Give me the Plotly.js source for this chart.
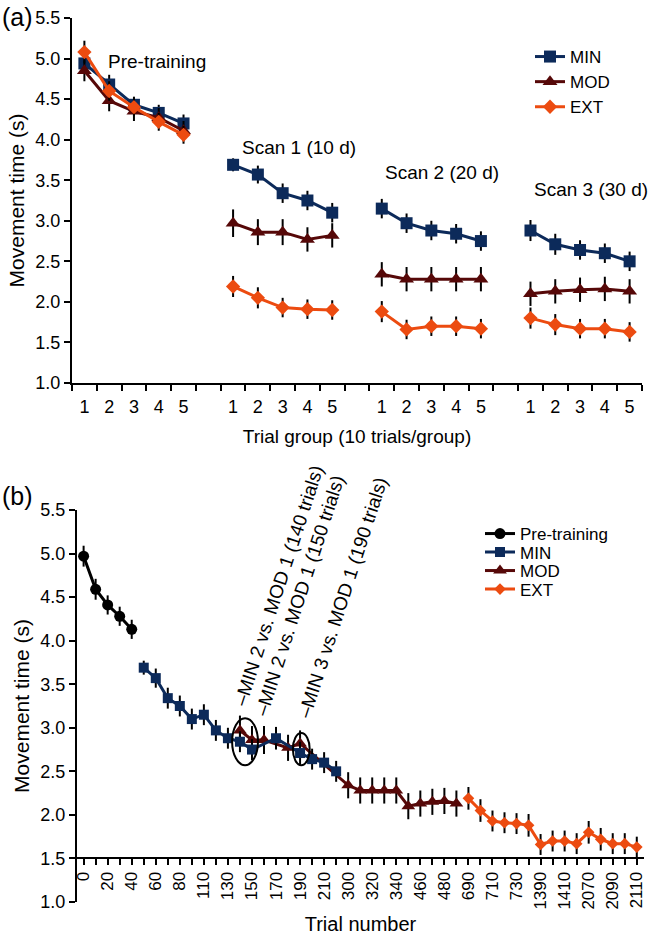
<!DOCTYPE html>
<html>
<head>
<meta charset="utf-8">
<script src="https://cdn.plot.ly/plotly-3.0.1.min.js"></script>
<style>
  html, body { margin: 0; padding: 0; background: #fff; }
  #chart { width: 650px; height: 935px; }
</style>
</head>
<body>
<div id="chart"></div>
<script>
const FONT = "Liberation Sans, Arial, Helvetica, sans-serif";

// ---------- panel (a): trial groups per session ----------
const trialGroups = [1, 2, 3, 4, 5];
const sessionLabels = ["Pre-training", "Scan 1 (10 d)", "Scan 2 (20 d)", "Scan 3 (30 d)"];

// movement time (s), 5 groups per session, sessions in the order above
const minTime = [4.94, 4.68, 4.43, 4.33, 4.20,
                 3.69, 3.57, 3.34, 3.25, 3.10,
                 3.15, 2.97, 2.88, 2.84, 2.75,
                 2.88, 2.71, 2.64, 2.60, 2.50];
const minSem  = [0.12, 0.12, 0.10, 0.10, 0.11,
                 0.08, 0.11, 0.12, 0.12, 0.12,
                 0.12, 0.12, 0.12, 0.12, 0.12,
                 0.13, 0.13, 0.12, 0.12, 0.12];
const modTime = [4.85, 4.48, 4.35, 4.27, 4.11,
                 2.97, 2.86, 2.86, 2.77, 2.82,
                 2.34, 2.28, 2.28, 2.28, 2.28,
                 2.10, 2.13, 2.15, 2.16, 2.13];
const modSem  = [0.13, 0.13, 0.12, 0.12, 0.12,
                 0.17, 0.16, 0.16, 0.15, 0.15,
                 0.15, 0.15, 0.15, 0.15, 0.15,
                 0.15, 0.15, 0.15, 0.15, 0.15];
const extTime = [5.08, 4.60, 4.40, 4.22, 4.06,
                 2.19, 2.05, 1.93, 1.91, 1.90,
                 1.88, 1.66, 1.70, 1.70, 1.67,
                 1.80, 1.72, 1.67, 1.67, 1.63];
const extSem  = [0.14, 0.12, 0.11, 0.11, 0.11,
                 0.13, 0.13, 0.12, 0.12, 0.12,
                 0.13, 0.12, 0.12, 0.12, 0.12,
                 0.13, 0.13, 0.12, 0.12, 0.12];

// ---------- panel (b): cumulative trial number ----------
const preTrials = [0, 10, 20, 30, 40];
const preTime   = [4.97, 4.59, 4.41, 4.28, 4.13];
const preSem    = [0.12, 0.12, 0.11, 0.11, 0.11];
const minTrials = [50, 60, 70, 80, 90, 110, 120, 130, 140, 150, 170, 190, 200, 210, 220];
const modTrials = [140, 150, 160, 180, 190, 300, 310, 320, 330, 340, 450, 460, 470, 480, 490];
const extTrials = [690, 700, 710, 720, 730, 1380, 1390, 1400, 1410, 1420, 2070, 2080, 2090, 2100, 2110];

const comparisons = [
  {label: "MIN 2 vs. MOD 1 (140 trials)", cx: 278, cy: 586},
  {label: "MIN 2 vs. MOD 1 (150 trials)", cx: 299, cy: 596},
  {label: "MIN 3 vs. MOD 1 (190 trials)", cx: 342, cy: 598}
];

const NAVY = "#0c2a5a", MAROON = "#560808", ORANGE = "#ec4b10";

const W = 650, H = 935;
const fx = p => p / W;
const fy = p => 1 - p / H;

// panel (a) x positions: sessions laid side by side with one empty slot between
const SLOT = trialGroups.length + 1;
function sessionSeries(values, sem) {
  const x = [], y = [], e = [];
  sessionLabels.forEach((s, si) => {
    trialGroups.forEach((g, gi) => {
      x.push(g + si * SLOT);
      y.push(values[si * trialGroups.length + gi]);
      e.push(sem[si * trialGroups.length + gi]);
    });
    x.push(null); y.push(null); e.push(null);
  });
  return {x, y, e};
}

const tickPosA = [], tickTextA = [], boundA = [];
sessionLabels.forEach((s, si) => {
  trialGroups.forEach(g => { tickPosA.push(g + si * SLOT); tickTextA.push(String(g)); });
});
for (let v = 0.5; v <= sessionLabels.length * SLOT - 0.5; v += 1) boundA.push(v);

function traceA(name, values, sem, color, symbol, size) {
  const s = sessionSeries(values, sem);
  return {
    x: s.x, y: s.y, name: name, type: "scatter", mode: "lines+markers",
    xaxis: "x", yaxis: "y", legend: "legend",
    line: {color: color, width: 3},
    marker: {color: color, symbol: symbol, size: size},
    error_y: {type: "data", array: s.e, color: "black", thickness: 2, width: 0}
  };
}

// panel (b) categories: every trial number that appears, in order
const allTrials = [...new Set([].concat(preTrials, minTrials, modTrials, extTrials))].sort((a, b) => a - b);
const cats = allTrials.map(String);
const catText = cats.map((c, i) => (i % 2 === 0 ? c : ""));
const catIndex = t => cats.indexOf(String(t));

function traceB(name, trials, values, sem, color, symbol, size, legend) {
  return {
    x: trials.map(String), y: values, name: name, type: "scatter", mode: "lines+markers",
    xaxis: "x2", yaxis: "y2", legend: legend,
    line: {color: color, width: 3},
    marker: {color: color, symbol: symbol, size: size},
    error_y: {type: "data", array: sem, color: "black", thickness: 2, width: 0}
  };
}

const data = [
  traceA("MIN", minTime, minSem, NAVY, "square", 12),
  traceA("MOD", modTime, modSem, MAROON, "triangle-up", 13),
  traceA("EXT", extTime, extSem, ORANGE, "diamond", 11),
  traceB("Pre-training", preTrials, preTime, preSem, "black", "circle", 11, "legend2"),
  // MOD drawn under MIN so its link from session 1 to 2 hides behind the MIN 3 points
  traceB("MOD", modTrials, modTime.slice(5), modSem.slice(5), MAROON, "triangle-up", 12, "legend4"),
  traceB("MIN", minTrials, minTime.slice(5), minSem.slice(5), NAVY, "square", 10, "legend3"),
  traceB("EXT", extTrials, extTime.slice(5), extSem.slice(5), ORANGE, "diamond", 9, "legend5")
];

const axisLine = {showline: true, linecolor: "black", linewidth: 2, showgrid: false, zeroline: false,
                  ticks: "outside", ticklen: 6, tickwidth: 2, tickcolor: "black"};

const legendBase = {xanchor: "left", yanchor: "middle", bgcolor: "rgba(0,0,0,0)",
                    font: {size: 17, family: FONT}, itemwidth: 30};

const annotations = [
  {text: "(a)", x: fx(0), y: fy(17), xref: "paper", yref: "paper", xanchor: "left", yanchor: "middle",
   showarrow: false, font: {size: 25}},
  {text: "(b)", x: fx(0), y: fy(496), xref: "paper", yref: "paper", xanchor: "left", yanchor: "middle",
   showarrow: false, font: {size: 25}}
];
const labelPos = [[106, 62], [240, 147], [383, 172], [532, 189]];
sessionLabels.forEach((s, i) => {
  annotations.push({text: s, x: fx(labelPos[i][0]), y: fy(labelPos[i][1]), xref: "paper", yref: "paper",
                    xanchor: "left", yanchor: "middle", showarrow: false, font: {size: 19}});
});
comparisons.forEach(c => {
  annotations.push({text: "\u2013" + c.label, x: fx(c.cx), y: fy(c.cy), xref: "paper", yref: "paper",
                    xanchor: "center", yanchor: "middle", textangle: -72, showarrow: false, font: {size: 19}});
});

const shapes = [
  {type: "circle", xref: "x2", yref: "y2", x0: catIndex(140) - 0.65, x1: catIndex(150) + 0.5,
   y0: 2.57, y1: 3.11, line: {color: "black", width: 2}},
  {type: "circle", xref: "x2", yref: "y2", x0: catIndex(190) - 0.6, x1: catIndex(190) + 0.8,
   y0: 2.57, y1: 2.94, line: {color: "black", width: 2}}
];

const layout = {
  width: W, height: H,
  margin: {l: 0, r: 0, t: 0, b: 0},
  paper_bgcolor: "white", plot_bgcolor: "white",
  font: {family: FONT, size: 18, color: "black"},
  xaxis: Object.assign({}, axisLine, {
    domain: [fx(72), fx(642)], range: [0.5, sessionLabels.length * SLOT - 0.5], anchor: "y",
    tickmode: "array", tickvals: tickPosA, ticktext: tickTextA, tickcolor: "rgba(0,0,0,0)",
    minor: {tickmode: "array", tickvals: boundA, ticks: "outside", ticklen: 6, tickwidth: 2, tickcolor: "black"},
    title: {text: "Trial group (10 trials/group)", font: {size: 19}, standoff: 14}
  }),
  yaxis: Object.assign({}, axisLine, {
    domain: [fy(383), fy(18)], range: [1, 5.5], anchor: "x", dtick: 0.5, tickformat: ".1f",
    title: {text: "Movement time (s)", font: {size: 21}, standoff: 5}
  }),
  xaxis2: Object.assign({}, axisLine, {
    type: "category", categoryorder: "array", categoryarray: cats,
    domain: [fx(77), fx(644)], range: [-0.55, cats.length - 0.4],
    anchor: "free", position: fy(858),
    tickmode: "array", tickvals: cats, ticktext: catText, tickangle: -90, tickfont: {size: 17},
    title: {text: "Trial number", font: {size: 20}, standoff: 10}
  }),
  yaxis2: Object.assign({}, axisLine, {
    domain: [fy(902), fy(510)], range: [1, 5.5], anchor: "x2", dtick: 0.5, tickformat: ".1f",
    title: {text: "Movement time (s)", font: {size: 21}, standoff: 5}
  }),
  legend: Object.assign({}, legendBase, {x: fx(530), y: fy(39), yanchor: "top"}),
  legend2: Object.assign({}, legendBase, {x: fx(480), y: fy(534)}),
  legend3: Object.assign({}, legendBase, {x: fx(480), y: fy(552.5)}),
  legend4: Object.assign({}, legendBase, {x: fx(480), y: fy(571)}),
  legend5: Object.assign({}, legendBase, {x: fx(480), y: fy(589.5)}),
  annotations: annotations,
  shapes: shapes
};

Plotly.newPlot("chart", data, layout, {displayModeBar: false, staticPlot: true});
</script>
</body>
</html>
